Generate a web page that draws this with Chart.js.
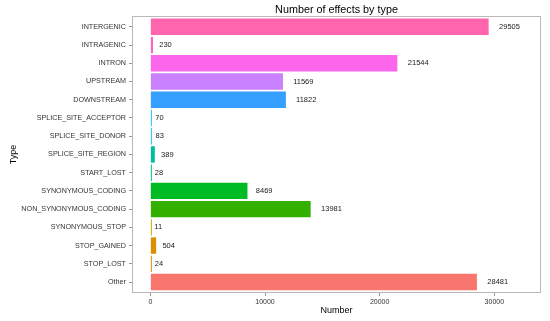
<!DOCTYPE html>
<html><head><meta charset="utf-8">
<script src="https://cdn.jsdelivr.net/npm/chart.js@4"></script>
<style>html,body{margin:0;padding:0;background:#fff}</style>
</head><body>
<canvas id="c" width="550" height="321" style="width:550px;height:321px;display:block"></canvas>
<script>
const categories = ["INTERGENIC","INTRAGENIC","INTRON","UPSTREAM","DOWNSTREAM","SPLICE_SITE_ACCEPTOR","SPLICE_SITE_DONOR","SPLICE_SITE_REGION","START_LOST","SYNONYMOUS_CODING","NON_SYNONYMOUS_CODING","SYNONYMOUS_STOP","STOP_GAINED","STOP_LOST","Other"];
const counts = [29505,230,21544,11569,11822,70,83,389,28,8469,13981,11,504,24,28481];
const barColors = ["#FF65AC","#FF63C8","#FC66EC","#C981FF","#35A0FF","#1FBCF0","#1FC4DE","#00BDA0","#00C08B","#00BB24","#33B000","#C6A800","#D89000","#E88A00","#F8766D"];
const xTicks = [0,10000,20000,30000];
const xRange = [-1600, 34070];
const FONT = "'Liberation Sans', Arial, Helvetica, sans-serif";

const panelBorder = {
  id: 'panelBorder',
  afterDatasetsDraw(chart) {
    const {ctx, chartArea: a} = chart;
    ctx.save();
    ctx.strokeStyle = '#b8b8b8';
    ctx.lineWidth = 1;
    ctx.strokeRect(Math.round(a.left) + 0.5, Math.round(a.top) + 0.5, Math.round(a.right - a.left) - 1, Math.round(a.bottom - a.top) - 1);
    ctx.restore();
  }
};

const valueLabels = {
  id: 'valueLabels',
  afterDatasetsDraw(chart) {
    const {ctx} = chart;
    const meta = chart.getDatasetMeta(0);
    const xs = chart.scales.x;
    ctx.save();
    ctx.font = '7.5px ' + FONT;
    ctx.fillStyle = '#1a1a1a';
    ctx.textAlign = 'left';
    ctx.textBaseline = 'middle';
    meta.data.forEach((bar, i) => {
      const t = String(counts[i]);
      const w = ctx.measureText(t).width;
      const x = xs.getPixelForValue(counts[i]) + w / 2;
      ctx.fillText(t, x, bar.y);
    });
    ctx.restore();
  }
};

new Chart(document.getElementById('c'), {
  type: 'bar',
  data: {
    labels: categories,
    datasets: [{
      data: counts.map((v, i) => ({x: v, y: i})),
      backgroundColor: barColors,
      borderWidth: 0,
      barPercentage: 0.9,
      categoryPercentage: 1,
      minBarLength: 1.5
    }]
  },
  options: {
    indexAxis: 'y',
    responsive: false,
    animation: false,
    devicePixelRatio: 1,
    layout: {padding: {left: 0, right: 9, top: 0, bottom: 0}},
    plugins: {
      legend: {display: false},
      tooltip: {enabled: false},
      title: {
        display: true,
        text: 'Number of effects by type',
        fullSize: false,
        color: '#000',
        font: {family: FONT, size: 10.8, weight: 'normal', lineHeight: 1.1},
        padding: {top: 4, bottom: 0}
      }
    },
    scales: {
      x: {
        type: 'linear',
        position: 'bottom',
        offset: false,
        min: xRange[0],
        max: xRange[1],
        afterBuildTicks: s => { s.ticks = xTicks.map(v => ({value: v})); },
        afterFit: s => { s.height = 28; },
        ticks: {
          autoSkip: false, maxRotation: 0, padding: 2,
          color: '#333', font: {family: FONT, size: 7},
          callback: v => String(v)
        },
        grid: {offset: false, drawOnChartArea: false, tickLength: 3, color: '#9a9a9a'},
        border: {display: false},
        title: {display: true, text: 'Number', color: '#000', font: {family: FONT, size: 9}, padding: {top: 0, bottom: 5}}
      },
      y: {
        type: 'linear',
        reverse: true,
        offset: false,
        min: -0.6,
        max: categories.length - 0.4,
        afterBuildTicks: s => { s.ticks = categories.map((c, i) => ({value: i})); },
        afterFit: s => { s.width = 132; },
        ticks: {
          autoSkip: false, padding: 3,
          color: '#333', font: {family: FONT, size: 7.2},
          callback: v => categories[v]
        },
        grid: {offset: false, drawOnChartArea: false, tickLength: 3, color: '#9a9a9a'},
        border: {display: false},
        title: {display: true, text: 'Type', color: '#000', font: {family: FONT, size: 9}, padding: {top: 8, bottom: 8}}
      }
    }
  },
  plugins: [panelBorder, valueLabels]
});
</script>
</body></html>
